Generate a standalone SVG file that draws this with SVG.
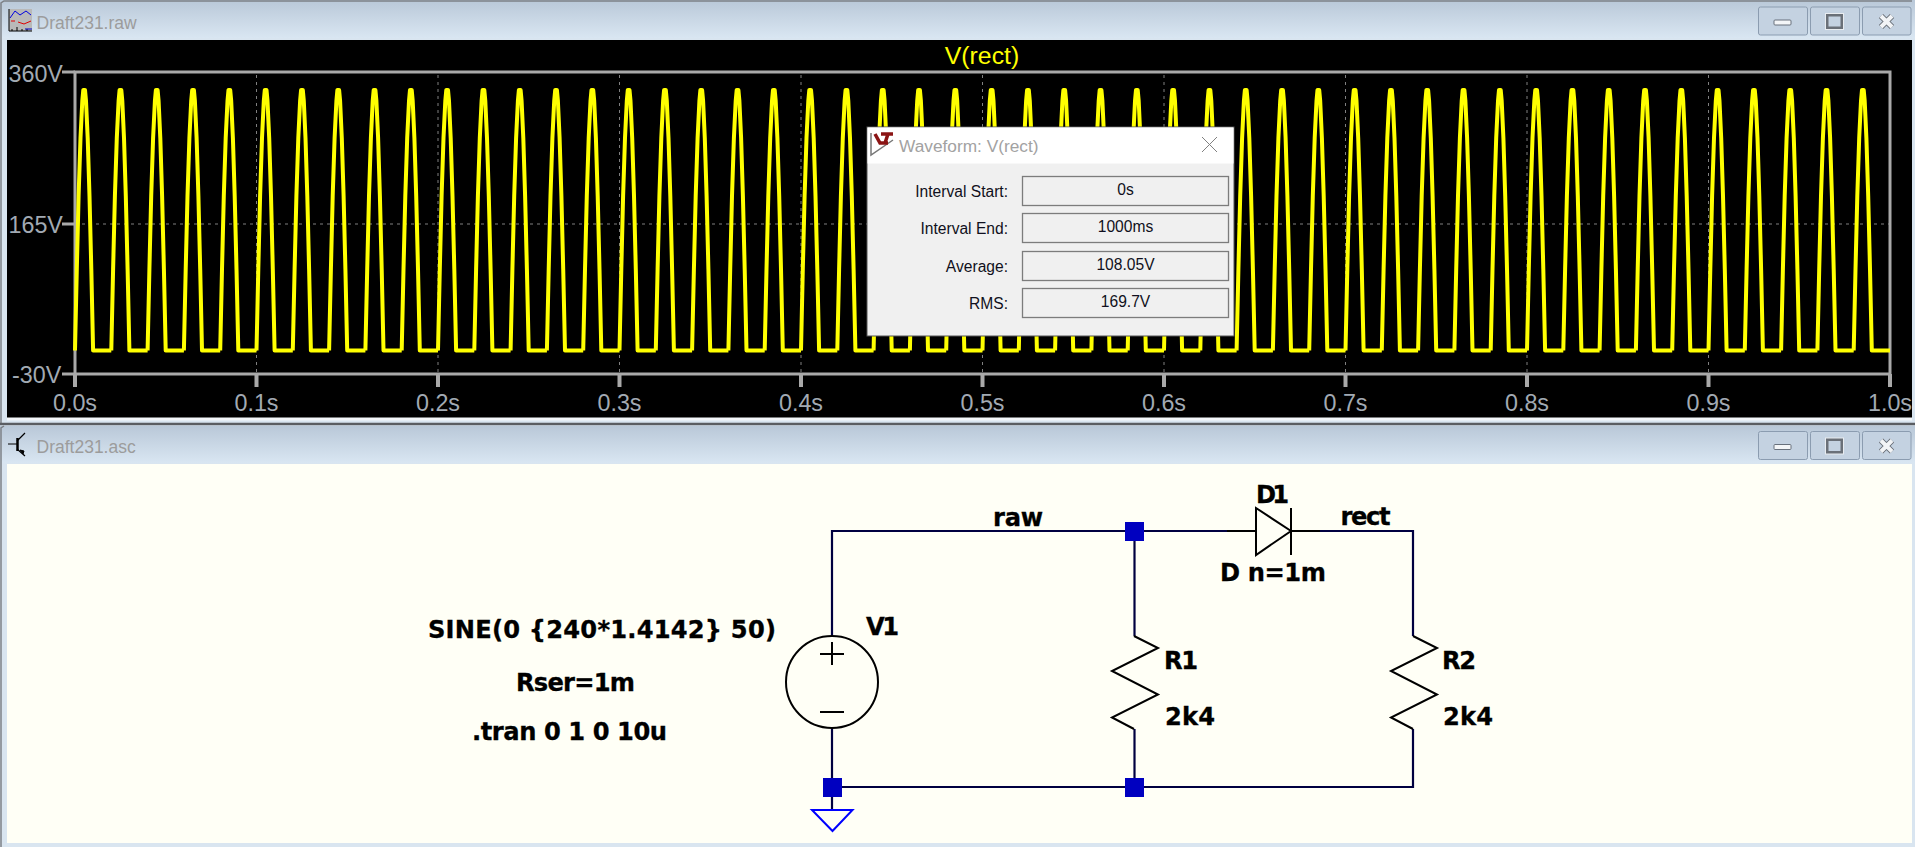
<svg xmlns="http://www.w3.org/2000/svg" width="1915" height="847" viewBox="0 0 1915 847">
<style>
.tt{font:17.5px "Liberation Sans",Arial,sans-serif;fill:#9c9c9c}
.ax{font:23.3px "Liberation Sans",Arial,sans-serif;fill:#a2aab3}
.dl{font:15.6px "Liberation Sans",Arial,sans-serif;fill:#101020;text-anchor:end}
.dv{font:15.6px "Liberation Sans",Arial,sans-serif;fill:#101020;text-anchor:middle}
.fld{fill:#f0f0f0;stroke:#7c7c7c;stroke-width:1.3}
.sc{font:bold 24.2px "DejaVu Sans",Verdana,sans-serif;fill:#000;stroke:#000;stroke-width:.3}
.wire{fill:none;stroke:#000040;stroke-width:2.2}
.sym{fill:none;stroke:#000;stroke-width:2}
.junc{fill:#0000c0}
.grid{stroke:#808080;stroke-width:1;stroke-dasharray:3 4;fill:none}
.tick{stroke:#a9a9a9;stroke-width:4;fill:none}
.btn{fill:#c4d2e1;stroke:#8b9cb0;stroke-width:1}
.trace{fill:none;stroke:#ffff00;stroke-width:4;stroke-linejoin:round}
</style>
<defs>
<linearGradient id="bar" x1="0" y1="0" x2="0" y2="1"><stop offset="0" stop-color="#b9c8d8"/><stop offset="1" stop-color="#d9e6f2"/></linearGradient>
<path id="halfwave" d="M0 350.500L1.800 269.400L3.600 196L5.500 138L7.300 101L8.300 90L10 90L11 101L12.700 138L14.500 196L16.300 269L18.100 350.500L36.300 350.500"/>
<g id="buttons">
<rect class="btn" x="1758.500" y="0" width="49" height="28" rx="2"/>
<rect class="btn" x="1810.500" y="0" width="49" height="28" rx="2"/>
<rect class="btn" x="1862.500" y="0" width="48.500" height="28" rx="2"/>
<rect x="1774" y="13" width="17" height="5" rx="1" fill="#f4f6f8" stroke="#68717c" stroke-width="1"/>
<rect x="1827" y="8" width="15" height="13" fill="none" stroke="#6a7078" stroke-width="3"/>
<rect x="1825.500" y="6.500" width="18" height="16" fill="none" stroke="#e8ecf0" stroke-width="1"/>
<path d="M1881 9L1892 20M1892 9L1881 20" stroke="#666c74" stroke-width="6"/>
<path d="M1881 9L1892 20M1892 9L1881 20" stroke="#f2f4f6" stroke-width="4"/>
</g>
</defs>
<rect width="1915" height="847" fill="#d9e5f0"/>

<g id="plot-window">
<rect x="0" y="0" width="1915" height="38" fill="url(#bar)"/>
<path d="M1 424V3L4 1H1912" fill="none" stroke="#7d8186" stroke-width="1.500"/>
<rect x="7" y="40" width="1905" height="379" fill="#000"/>
<path d="M7 419H1912" stroke="#f4f7fa" stroke-width="3"/>
<rect x="9" y="9" width="23" height="22" fill="#b9b9b9"/>
<path d="M10 18L15 11L20 15L26 11L31 15" fill="none" stroke="#0000e0" stroke-width="1"/>
<path d="M11 21H15M18 22L24 24L31 21" fill="none" stroke="#e00000" stroke-width="1"/>
<path d="M9 9V31H32M12 31V29M17 31V27M22 31V29M27 31V29" fill="none" stroke="#000" stroke-width="1"/>
<path d="M25 29H32" stroke="#0000c0" stroke-width="1"/>
<text class="tt" x="36.500" y="28.500">Draft231.raw</text>
<use href="#buttons" transform="translate(0,7)"/>
</g>

<g id="plot">
<path class="grid" d="M256.500 75V372M438 75V372M619.500 75V372M801 75V372M982.500 75V372M1164 75V372M1345.500 75V372M1527 75V372M1708.500 75V372M75 224H1890"/>
<rect x="75" y="72" width="1815" height="302" fill="none" stroke="#a9a9a9" stroke-width="3"/>
<path class="tick" d="M75 374V387M256.500 374V387M438 374V387M619.500 374V387M801 374V387M982.500 374V387M1164 374V387M1345.500 374V387M1527 374V387M1708.500 374V387M1890 374V387"/>
<path d="M62 72H75M62 224H75M62 374H75" stroke="#a9a9a9" stroke-width="3"/>
<g id="trace" class="trace" transform="translate(75,0)">
<use href="#halfwave" x="0"/><use href="#halfwave" x="36.300"/><use href="#halfwave" x="72.600"/><use href="#halfwave" x="108.900"/><use href="#halfwave" x="145.200"/>
<use href="#halfwave" x="181.500"/><use href="#halfwave" x="217.800"/><use href="#halfwave" x="254.100"/><use href="#halfwave" x="290.400"/><use href="#halfwave" x="326.700"/>
<use href="#halfwave" x="363"/><use href="#halfwave" x="399.300"/><use href="#halfwave" x="435.600"/><use href="#halfwave" x="471.900"/><use href="#halfwave" x="508.200"/>
<use href="#halfwave" x="544.500"/><use href="#halfwave" x="580.800"/><use href="#halfwave" x="617.100"/><use href="#halfwave" x="653.400"/><use href="#halfwave" x="689.700"/>
<use href="#halfwave" x="726"/><use href="#halfwave" x="762.300"/><use href="#halfwave" x="798.600"/><use href="#halfwave" x="834.900"/><use href="#halfwave" x="871.200"/>
<use href="#halfwave" x="907.500"/><use href="#halfwave" x="943.800"/><use href="#halfwave" x="980.100"/><use href="#halfwave" x="1016.400"/><use href="#halfwave" x="1052.700"/>
<use href="#halfwave" x="1089"/><use href="#halfwave" x="1125.300"/><use href="#halfwave" x="1161.600"/><use href="#halfwave" x="1197.900"/><use href="#halfwave" x="1234.200"/>
<use href="#halfwave" x="1270.500"/><use href="#halfwave" x="1306.800"/><use href="#halfwave" x="1343.100"/><use href="#halfwave" x="1379.400"/><use href="#halfwave" x="1415.700"/>
<use href="#halfwave" x="1452"/><use href="#halfwave" x="1488.300"/><use href="#halfwave" x="1524.600"/><use href="#halfwave" x="1560.900"/><use href="#halfwave" x="1597.200"/>
<use href="#halfwave" x="1633.500"/><use href="#halfwave" x="1669.800"/><use href="#halfwave" x="1706.100"/><use href="#halfwave" x="1742.400"/><use href="#halfwave" x="1778.700"/>
</g>
<text x="982" y="64" font-family="'Liberation Sans',Arial,sans-serif" font-size="24.800" fill="#ffff00" text-anchor="middle">V(rect)</text>
<g class="ax">
<text x="8.500" y="81.500">360V</text>
<text x="8.500" y="232.700">165V</text>
<text x="12" y="383">-30V</text>
<g text-anchor="middle">
<text x="75" y="411">0.0s</text><text x="256.500" y="411">0.1s</text><text x="438" y="411">0.2s</text><text x="619.500" y="411">0.3s</text><text x="801" y="411">0.4s</text><text x="982.500" y="411">0.5s</text><text x="1164" y="411">0.6s</text><text x="1345.500" y="411">0.7s</text><text x="1527" y="411">0.8s</text><text x="1708.500" y="411">0.9s</text><text x="1890" y="411">1.0s</text>
</g>
</g>
</g>

<g id="waveform-dialog">
<rect x="867" y="127" width="367" height="209" fill="#f0f0f0" stroke="#555" stroke-width="1"/>
<rect x="867.500" y="127.500" width="366" height="36" fill="#fff"/>
<path d="M871 133V155L893 140" fill="none" stroke="#777" stroke-width="1.500"/>
<path d="M875 134L880 143H888M881 134H893M888 134L885 143" fill="none" stroke="#8b1414" stroke-width="3.500"/>
<text x="899" y="151.700" font-family="'Liberation Sans',Arial,sans-serif" font-size="17.300" fill="#a2a2a2">Waveform: V(rect)</text>
<path d="M1202 137L1217 152M1217 137L1202 152" stroke="#808080" stroke-width="1"/>
<text class="dl" x="1008" y="196.700">Interval Start:</text>
<text class="dl" x="1008" y="234">Interval End:</text>
<text class="dl" x="1008" y="271.700">Average:</text>
<text class="dl" x="1008" y="309">RMS:</text>
<rect class="fld" x="1022.500" y="176.500" width="206" height="29"/>
<rect class="fld" x="1022.500" y="213.500" width="206" height="29"/>
<rect class="fld" x="1022.500" y="251.500" width="206" height="29"/>
<rect class="fld" x="1022.500" y="288.500" width="206" height="29"/>
<text class="dv" x="1125.500" y="195">0s</text>
<text class="dv" x="1125.500" y="232">1000ms</text>
<text class="dv" x="1125.500" y="270">108.05V</text>
<text class="dv" x="1125.500" y="307">169.7V</text>
</g>

<g id="schematic-window">
<path d="M0 424H1915" stroke="#5a5d62" stroke-width="2.500"/>
<rect x="0" y="426" width="1915" height="37" fill="url(#bar)"/>
<path d="M1 847V428L4 426" fill="none" stroke="#7d8186" stroke-width="1.500"/>
<rect x="7" y="464" width="1905" height="379" fill="#fffff6"/>
<path d="M8 444H17M17 441L25 433M17 449L25 456" fill="none" stroke="#000" stroke-width="1.200"/>
<path d="M17.500 438V451" stroke="#000" stroke-width="2.500"/>
<path d="M20 450L24 451L23 454Z" fill="#000" stroke="#000" stroke-width="1"/>
<text class="tt" x="36.500" y="452.700">Draft231.asc</text>
<use href="#buttons" transform="translate(0,431.500)"/>
</g>

<g id="connectors">
<path class="wire" d="M1227 531H832V636"/>
<path class="wire" d="M1320 531H1413V636"/>
<path class="wire" d="M1134.500 531V636"/>
<path class="wire" d="M832 728V810"/>
<path class="wire" d="M832 787H1413V729"/>
<path class="wire" d="M1134.500 729V787"/>
</g>

<g id="V1">
<circle class="sym" cx="832" cy="682" r="46"/>
<path class="sym" d="M820 654H844M832 642V665M820 712H844"/>
<text class="sc" x="866" y="635" textLength="33">V1</text>
<text class="sc" x="428" y="638" textLength="348">SINE(0 {240*1.4142} 50)</text>
<text class="sc" x="516" y="691" textLength="119">Rser=1m</text>
<text class="sc" x="472" y="740" textLength="195">.tran 0 1 0 10u</text>
</g>
<g id="D1">
<path class="sym" d="M1227 531H1256M1256 508V555L1291 531ZM1291 508V555M1291 531H1320"/>
<text class="sc" x="1256" y="502.700" textLength="33">D1</text>
<text class="sc" x="1220" y="580.700" textLength="106">D n=1m</text>
</g>
<g id="R1">
<path class="sym" d="M1134 636L1158 648L1112 671L1158 694.500L1112 717.500L1134 729"/>
<text class="sc" x="1164" y="669" textLength="34">R1</text>
<text class="sc" x="1165" y="725" textLength="50">2k4</text>
</g>
<g id="R2">
<path class="sym" d="M1413 636L1437 648L1391 671L1437 694.500L1391 717.500L1413 729"/>
<text class="sc" x="1442" y="669" textLength="34">R2</text>
<text class="sc" x="1443" y="725" textLength="50">2k4</text>
</g>
<g id="net-labels">
<text class="sc" x="993" y="526" textLength="50">raw</text>
<text class="sc" x="1340.500" y="525" textLength="50">rect</text>
</g>
<g id="junctions">
<rect class="junc" x="1125" y="522" width="19" height="19"/>
<rect class="junc" x="823" y="778" width="19" height="19"/>
<rect class="junc" x="1125" y="778" width="19" height="19"/>
</g>
<g id="ground">
<path d="M812 810H852.500L832.500 831Z" fill="none" stroke="#0000ff" stroke-width="2"/>
</g>
</svg>
